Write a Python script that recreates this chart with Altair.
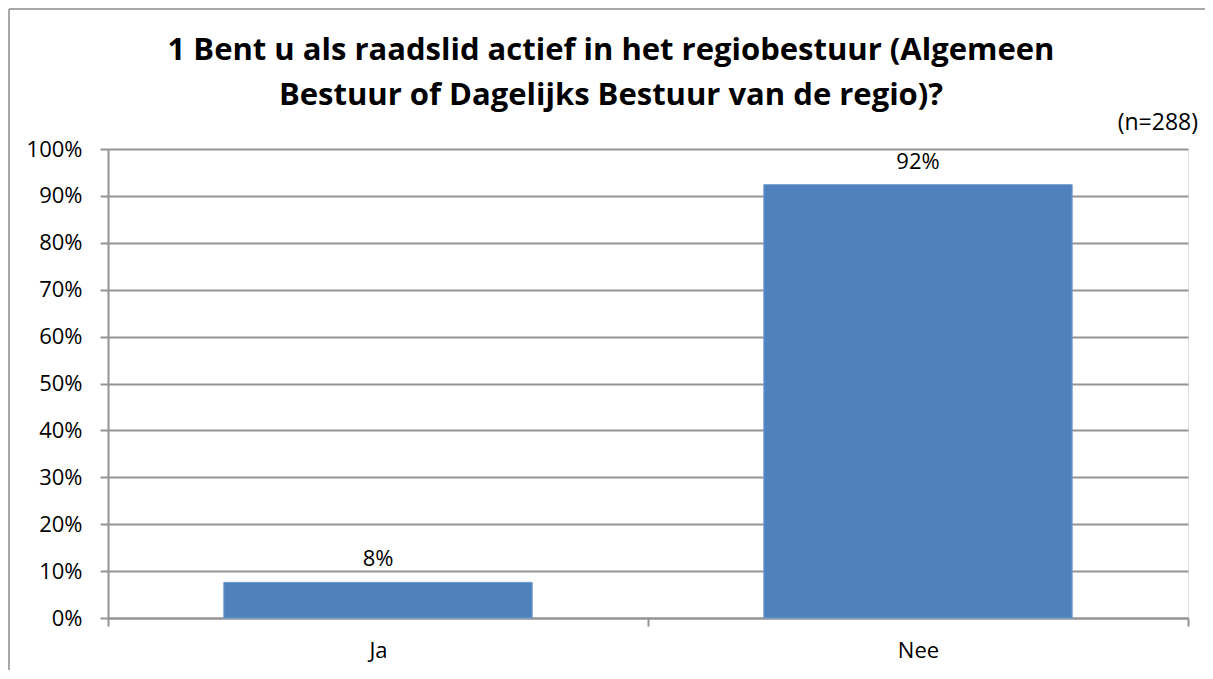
import altair as alt
import pandas as pd

categories = ["Ja", "Nee"]
values = [0.076, 0.924]
labels = ["8%", "92%"]
title_lines = ["1 Bent u als raadslid actief in het regiobestuur (Algemeen",
               "Bestuur of Dagelijks Bestuur van de regio)?"]
note = "(n=288)"
y_ticks = [0, 0.1, 0.2, 0.3, 0.4, 0.5, 0.6, 0.7, 0.8, 0.9, 1.0]

df = pd.DataFrame({"cat": categories, "val": values, "lab": labels})

W, H = 1080, 469
FONT = "Open Sans"
GRAY = "#949494"
LBL = 22

x = alt.X("cat:N", sort=categories, title=None,
          scale=alt.Scale(paddingInner=0, paddingOuter=0),
          axis=alt.Axis(labelAngle=0, labelFontSize=LBL, labelFont=FONT, labelColor="#000",
                        tickBand="extent", tickSize=8, tickColor=GRAY, tickWidth=2,
                        domainColor=GRAY, domainWidth=2, labelPadding=14, grid=False))
y = alt.Y("val:Q", title=None,
          scale=alt.Scale(domain=[0, 1], nice=False),
          axis=alt.Axis(values=y_ticks, format=".0%", labelFontSize=LBL, labelFont=FONT,
                        labelColor="#000", tickSize=8, tickColor=GRAY, tickWidth=2,
                        domainColor=GRAY, domainWidth=2, gridColor=GRAY, gridWidth=2,
                        labelPadding=18))

bars = alt.Chart(df).mark_bar(color="#4F81BD", stroke="#6f9bd0", strokeWidth=1,
                              width=alt.RelativeBandSize(0.571)).encode(x=x, y=y)
text = alt.Chart(df).mark_text(fontSize=LBL, font=FONT, color="#000", baseline="bottom", dy=-11).encode(
    x=alt.X("cat:N", sort=categories), y="val:Q", text="lab:N")
note_mark = alt.Chart(pd.DataFrame({"t": [note]})).mark_text(
    fontSize=23, font=FONT, color="#000", align="right", baseline="middle").encode(
    x=alt.value(W + 10), y=alt.value(-26), text="t:N")
title1 = alt.Chart(pd.DataFrame({"t": [title_lines[0]]})).mark_text(
    fontSize=31, font=FONT, fontWeight="bold", color="#000", align="center", baseline="alphabetic").encode(
    x=alt.value(503), y=alt.value(-89), text="t:N")
title2 = alt.Chart(pd.DataFrame({"t": [title_lines[1]]})).mark_text(
    fontSize=31, font=FONT, fontWeight="bold", color="#000", align="center", baseline="alphabetic").encode(
    x=alt.value(503), y=alt.value(-44), text="t:N")
border_left = alt.Chart(pd.DataFrame({"a": [0]})).mark_rule(color="#a8a8a8", strokeWidth=2).encode(
    x=alt.value(-99), y=alt.value(-140), y2=alt.value(H + 60))
border_top = alt.Chart(pd.DataFrame({"a": [0]})).mark_rule(color="#a8a8a8", strokeWidth=2).encode(
    x=alt.value(-99), x2=alt.value(W + 40), y=alt.value(-140))

chart = alt.layer(bars, text, note_mark, title1, title2, border_left, border_top).properties(
    width=W, height=H,
    autosize=alt.AutoSizeParams(type="none"),
    padding={"left": 100, "top": 141, "right": 17, "bottom": 52},
).configure_view(stroke=None).configure(background="white")

chart.save("out.html", embed_options={"renderer": "svg", "actions": False})
